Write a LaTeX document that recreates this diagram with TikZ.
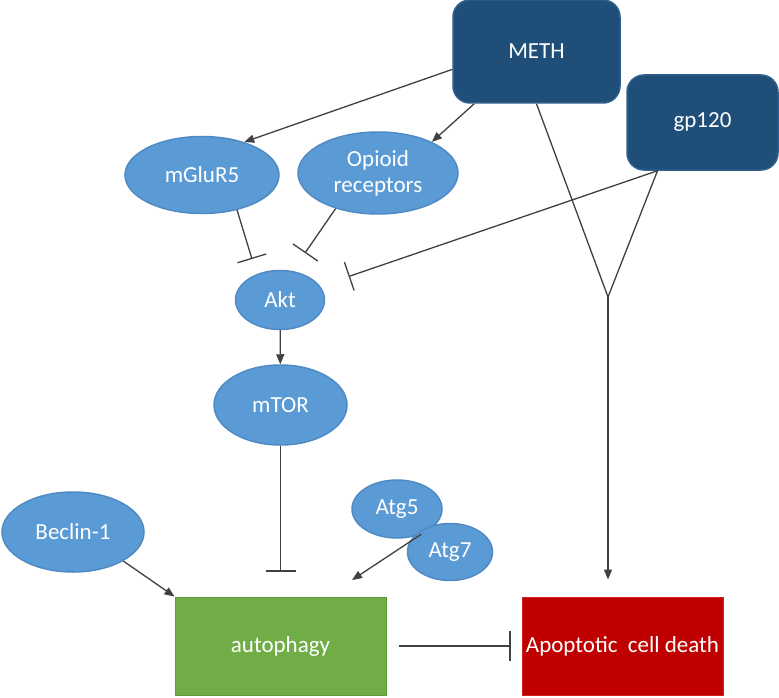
\documentclass[tikz,border=0pt]{standalone}
\usepackage{fontspec}
\setmainfont{Carlito}
\usetikzlibrary{shapes.geometric,arrows.meta}
\definecolor{cellblue}{HTML}{5B9BD5}
\definecolor{celledge}{HTML}{4F8AC4}
\definecolor{navy}{HTML}{1F4E79}
\definecolor{navyedge}{HTML}{2E5F8E}
\definecolor{leaf}{HTML}{70AD47}
\definecolor{leafedge}{HTML}{5F9A3C}
\definecolor{blood}{HTML}{C00000}
\definecolor{bloodedge}{HTML}{D02020}
\definecolor{wire}{HTML}{404040}
\tikzset{every node/.style={ellipse,fill=cellblue,draw=celledge,line width=1.5pt,text=white,inner sep=0pt,font=\fontsize{23}{26}\selectfont}}
\tikzset{src/.style={rectangle,rounded corners=17pt,fill=navy,draw=navyedge}}
\tikzset{box/.style={rectangle,line width=1pt}}
\tikzset{act/.style={draw=wire,line width=1.3pt,-{Triangle[length=10pt,width=8pt]}}}
\tikzset{inh/.style={draw=wire,line width=1.3pt,-{Bar[width=30pt]}}}

\begin{document}
\begin{tikzpicture}[x=1pt,y=-1pt]
  \useasboundingbox (0,0) rectangle (779,698);
      \node[src,minimum width=167pt,minimum height=103pt] (meth) at (536.5,51.5) {METH};
      \node[src,minimum width=151pt,minimum height=95pt] (gp) at (702.5,122.5) {gp120};
      \node[minimum width=154pt,minimum height=77pt] (mglu) at (202,175) {mGluR5};
      \node[minimum width=160pt,minimum height=82pt,align=center] (opi) at (378,173) {Opioid\\receptors};
      \node[minimum width=89pt,minimum height=59pt] (akt) at (280,300) {Akt};
      \node[minimum width=133pt,minimum height=80pt] (mtor) at (280.5,405) {mTOR};
      \node[minimum width=142pt,minimum height=80pt] (bec) at (73,532) {Beclin-1};
      \node[minimum width=90pt,minimum height=58pt] (atg5) at (397,509) {Atg5};
      \node[minimum width=85pt,minimum height=57pt] (atg7) at (450,552) {Atg7};
      \node[box,fill=leaf,draw=leafedge,minimum width=211pt,minimum height=98pt] (auto) at (280.5,646) {autophagy};
      \node[box,fill=blood,draw=bloodedge,minimum width=201pt,minimum height=98pt] (apop) at (622.5,646) {Apoptotic~ cell death};
      \coordinate (b1) at (252,259);
      \coordinate (b2) at (305,253);
      \coordinate (join) at (608,297);
      \coordinate (a1) at (352,580);
        \draw[act] (meth.192) -- (mglu.38);
        \draw[act] (meth.220) -- (opi.30);
        \draw[inh] (mglu.-45) -- (b1);
        \draw[inh] (opi.-140) -- (b2);
        \draw[inh,shorten >=30pt] (gp.-133) -- (akt);
        \draw[wire,line width=1.3pt] (meth.south) -- (join);
        \draw[wire,line width=1.3pt] (gp.-133) -- (join);
        \draw[act,shorten >=17pt] (join) -- (join |- apop.north);
        \draw[act] (akt) -- (mtor);
        \draw[inh,shorten >=25pt] (mtor) -- (auto);
        \draw[act] (bec.-30) -- (auto.north west);
        \draw[act] (atg5.-46) -- (a1);
        \draw[inh,shorten <=12pt,shorten >=11pt] (auto) -- (apop);
    \end{tikzpicture}
\end{document}
